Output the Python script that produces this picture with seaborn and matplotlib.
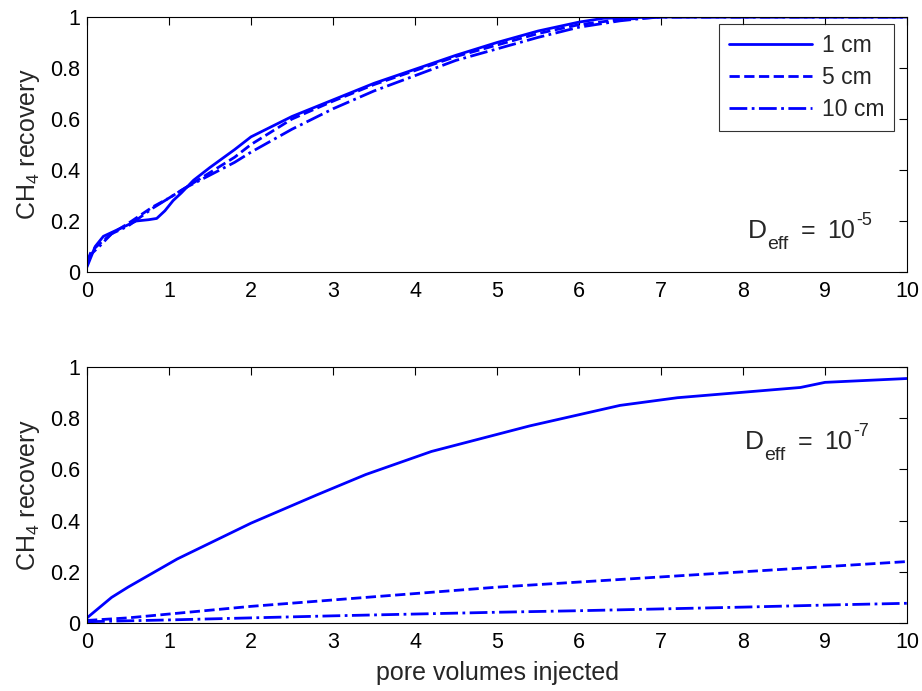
import numpy as np
import pandas as pd
import seaborn as sns
import matplotlib
matplotlib.use("Agg")
import matplotlib.pyplot as plt

sns.set_style("white")
plt.rcParams['font.family'] = ['Liberation Sans', 'DejaVu Sans']
plt.rcParams['mathtext.fontset'] = 'custom'
plt.rcParams['mathtext.rm'] = 'Liberation Sans'
plt.rcParams['mathtext.it'] = 'Liberation Sans'

# Top panel (D_eff = 1e-5)
top_1cm_x = [0, 0.05, 0.1, 0.2, 0.4, 0.6, 0.75, 0.85, 0.95, 1.05, 1.15, 1.3, 1.5, 1.8, 2.0, 2.5, 3.0, 3.5, 4.0, 4.5, 5.0, 5.5, 6.0, 6.3, 7.0, 8.0, 9.0, 10.0]
top_1cm_y = [0.02, 0.06, 0.10, 0.14, 0.17, 0.20, 0.205, 0.21, 0.24, 0.28, 0.31, 0.36, 0.41, 0.48, 0.53, 0.61, 0.675, 0.74, 0.795, 0.85, 0.90, 0.945, 0.98, 0.995, 1.0, 1.0, 1.0, 1.0]
top_5cm_x = [0, 0.05, 0.15, 0.3, 0.5, 0.8, 1.0, 1.2, 1.5, 1.8, 2.0, 2.5, 3.0, 3.5, 4.0, 4.5, 5.0, 5.5, 6.0, 6.5, 7.0, 8.0, 9.0, 10.0]
top_5cm_y = [0.04, 0.08, 0.11, 0.15, 0.19, 0.255, 0.29, 0.33, 0.39, 0.45, 0.50, 0.60, 0.67, 0.735, 0.79, 0.845, 0.89, 0.935, 0.97, 0.99, 1.0, 1.0, 1.0, 1.0]
top_10cm_x = [0, 0.05, 0.15, 0.3, 0.5, 0.8, 1.0, 1.2, 1.5, 1.8, 2.0, 2.5, 3.0, 3.5, 4.0, 4.5, 5.0, 5.5, 6.0, 6.5, 6.8, 7.0, 8.0, 9.0, 10.0]
top_10cm_y = [0.03, 0.07, 0.10, 0.15, 0.18, 0.25, 0.29, 0.33, 0.38, 0.43, 0.47, 0.56, 0.64, 0.71, 0.77, 0.83, 0.875, 0.92, 0.96, 0.985, 0.995, 1.0, 1.0, 1.0, 1.0]

# Bottom panel (D_eff = 1e-7)
bot_1cm_x = [0, 0.3, 0.5, 1.1, 2.0, 2.8, 3.4, 4.2, 5.4, 6.5, 7.2, 8.7, 9.0, 10.0]
bot_1cm_y = [0.02, 0.10, 0.14, 0.25, 0.39, 0.50, 0.58, 0.67, 0.77, 0.85, 0.88, 0.92, 0.94, 0.955]
bot_5cm_x = [0, 0.5, 1.0, 2.0, 3.0, 4.0, 5.0, 6.0, 7.0, 8.0, 9.0, 10.0]
bot_5cm_y = [0.01, 0.02, 0.035, 0.065, 0.09, 0.115, 0.14, 0.16, 0.18, 0.20, 0.22, 0.24]
bot_10cm_x = [0, 1.0, 2.0, 3.0, 4.0, 5.0, 6.0, 7.0, 8.0, 9.0, 10.0]
bot_10cm_y = [0.005, 0.012, 0.02, 0.028, 0.035, 0.042, 0.048, 0.055, 0.062, 0.07, 0.077]

labels = ['1 cm', '5 cm', '10 cm']
styles = ['-', '--', '-.']
xticks = list(range(0, 11))
yticks = [0, 0.2, 0.4, 0.6, 0.8, 1.0]
ytick_labels = ['0', '0.2', '0.4', '0.6', '0.8', '1']

W, H = 922, 691
fig = plt.figure(figsize=(W / 100, H / 100), dpi=100)

def axes_px(left, top, right, bottom):
    return fig.add_axes([left / W, 1 - bottom / H, (right - left) / W, (bottom - top) / H])

ax1 = axes_px(87, 17, 907, 272)
ax2 = axes_px(87, 367, 907, 623)

TFS = 15.5
LFS = 18

def draw(ax, series):
    for (x, y), lab, ls in zip(series, labels, styles):
        sns.lineplot(x=x, y=y, ax=ax, color='#0000ff', linestyle=ls, linewidth=2.0, label=lab)
    ax.set_xlim(0, 10)
    ax.set_ylim(0, 1)
    ax.set_xticks(xticks)
    ax.set_xticklabels([str(t) for t in xticks])
    ax.set_yticks(yticks)
    ax.set_yticklabels(ytick_labels)
    ax.tick_params(direction='in', top=True, right=True, labelsize=TFS, length=6, width=0.8, colors='black')
    ax.tick_params(axis='x', pad=6.5)
    ax.tick_params(axis='y', pad=5)
    for s in ax.spines.values():
        s.set_visible(True)
        s.set_color('black')
        s.set_linewidth(0.8)
    ax.set_ylabel(r'CH$_4$ recovery', fontsize=LFS, labelpad=6)
    ax.set_xlabel('')

draw(ax1, [(top_1cm_x, top_1cm_y), (top_5cm_x, top_5cm_y), (top_10cm_x, top_10cm_y)])
draw(ax2, [(bot_1cm_x, bot_1cm_y), (bot_5cm_x, bot_5cm_y), (bot_10cm_x, bot_10cm_y)])

def deff(xD, yb, exp):
    # pixel positions of the annotation pieces (left, baseline)
    fig.text(xD / W, 1 - yb / H, 'D', fontsize=19, ha='left', va='baseline')
    fig.text((xD + 19) / W, 1 - (yb + 11) / H, 'eff', fontsize=14, ha='left', va='baseline')
    fig.text((xD + 53) / W, 1 - yb / H, '=', fontsize=18, ha='left', va='baseline')
    fig.text((xD + 79) / W, 1 - yb / H, '10', fontsize=18, ha='left', va='baseline')
    fig.text((xD + 108) / W, 1 - (yb - 13) / H, exp, fontsize=13, ha='left', va='baseline')

deff(748, 238, '-5')
deff(745, 449, '-7')

leg = ax1.legend(loc='upper right', fontsize=16.5, frameon=True, fancybox=False, edgecolor='black',
                 handlelength=3.6, handletextpad=0.45, borderpad=0.42, labelspacing=0.4,
                 borderaxespad=0, bbox_to_anchor=((894 - 87) / 820, (272 - 24) / 255))
leg.get_frame().set_linewidth(0.8)
ax2.get_legend().remove()
ax2.set_xlabel('pore volumes injected', fontsize=LFS, labelpad=6)

fig.savefig('out.png', dpi=100)
